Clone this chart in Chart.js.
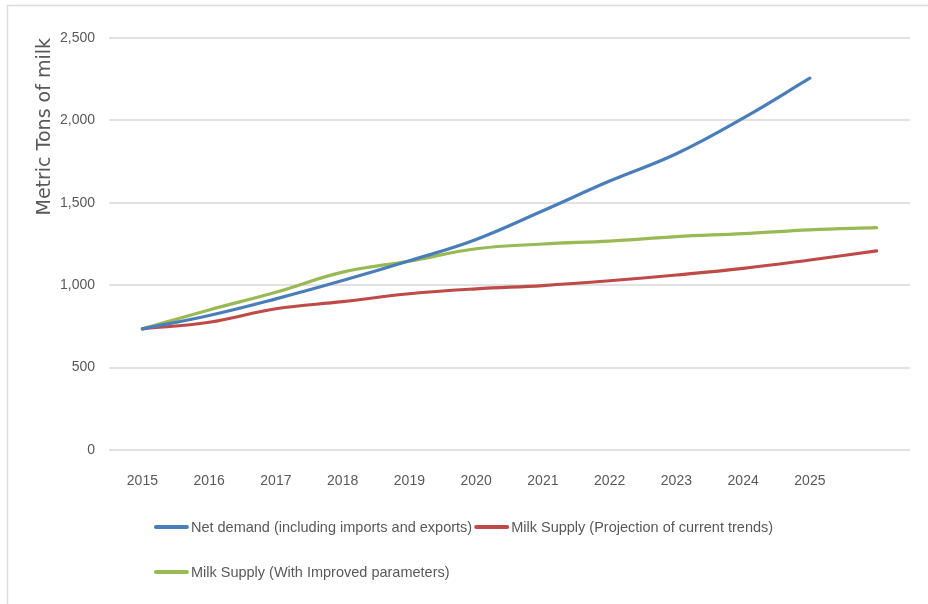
<!DOCTYPE html>
<html>
<head>
<meta charset="utf-8">
<script src="https://cdn.jsdelivr.net/npm/chart.js@4"></script>
<style>
  html, body { margin: 0; padding: 0; background: #ffffff; }
  #wrap { position: relative; width: 928px; height: 604px; }
</style>
</head>
<body>
<div id="wrap"><canvas id="c" width="928" height="604"></canvas></div>
<script>
// ---- data ----
const years = ['2015', '2016', '2017', '2018', '2019', '2020', '2021', '2022', '2023', '2024', '2025', ''];
const netDemand = [735, 816, 917, 1028, 1148, 1278, 1452, 1632, 1798, 2014, 2256];
const supplyCurrent = [735, 775, 857, 900, 948, 978, 998, 1027, 1062, 1102, 1153, 1208];
const supplyImproved = [735, 850, 957, 1079, 1146, 1221, 1250, 1268, 1295, 1313, 1336, 1349];
const seriesNames = [
  'Net demand (including imports and exports)',
  'Milk Supply (Projection of current trends)',
  'Milk Supply (With Improved parameters)'
];
const yTicks = [0, 500, 1000, 1500, 2000, 2500];
const yTitle = 'Metric Tons of milk';

const SANS = "'Liberation Sans', Arial, sans-serif";
const TEXT = '#595959';
const colors = ['#4A7EBB', '#BE4B48', '#98B954'];

const framePlugin = {
  id: 'frame',
  beforeDraw(chart) {
    const ctx = chart.ctx;
    ctx.save();
    ctx.strokeStyle = '#dcdcdc';
    ctx.lineWidth = 1.5;
    ctx.strokeRect(7.5, 5.5, 1000, 800);
    ctx.restore();
  }
};

const legendPlugin = {
  id: 'customLegend',
  afterDraw(chart) {
    const ctx = chart.ctx;
    const ds = chart.data.datasets;
    ctx.save();
    ctx.font = '14.5px ' + SANS;
    ctx.textBaseline = 'middle';
    ctx.textAlign = 'left';
    const mark = 33, gapT = 3, gapI = 3;
    const rows = [[0, 1], [2]];
    const rowY = [527, 572];
    const w = i => mark + gapT + ctx.measureText(ds[i].label).width;
    const row1W = w(0) + gapI + w(1);
    const startX = (chart.width - row1W) / 2;
    rows.forEach((row, r) => {
      let x = startX;
      row.forEach(i => {
        ctx.strokeStyle = ds[i].borderColor;
        ctx.lineWidth = 4;
        ctx.lineCap = 'round';
        ctx.beginPath();
        ctx.moveTo(x + 1, rowY[r]);
        ctx.lineTo(x + mark - 1, rowY[r]);
        ctx.stroke();
        ctx.fillStyle = TEXT;
        ctx.fillText(ds[i].label, x + mark + gapT, rowY[r] + 1);
        x += w(i) + gapI;
      });
    });
    ctx.restore();
  }
};

const mk = (label, data, color) => ({
  label, data,
  borderColor: color,
  backgroundColor: color,
  borderWidth: 3.2,
  pointRadius: 0,
  pointHoverRadius: 0,
  tension: 0.4,
  fill: false,
  borderCapStyle: 'round'
});

new Chart(document.getElementById('c'), {
  type: 'line',
  data: {
    labels: years,
    datasets: [
      mk(seriesNames[0], netDemand, colors[0]),
      mk(seriesNames[1], supplyCurrent, colors[1]),
      mk(seriesNames[2], supplyImproved, colors[2])
    ]
  },
  options: {
    responsive: false,
    animation: false,
    devicePixelRatio: 1,
    layout: { padding: { left: 0, top: 38, right: 18, bottom: 0 } },
    plugins: {
      legend: { display: false },
      tooltip: { enabled: false },
      title: { display: false }
    },
    scales: {
      x: {
        offset: true,
        grid: { display: false, drawTicks: false },
        border: { display: false },
        ticks: {
          color: TEXT,
          font: { family: SANS, size: 14 },
          padding: 23,
          maxRotation: 0,
          autoSkip: false
        },
        afterFit(scale) { scale.height = 154; }
      },
      y: {
        min: 0,
        max: 2500,
        afterBuildTicks(scale) { scale.ticks = yTicks.map(v => ({ value: v })); },
        grid: { color: '#e2e2e2', lineWidth: 2, drawTicks: false },
        border: { display: false },
        ticks: {
          color: TEXT,
          font: { family: SANS, size: 14 },
          padding: 14,
          callback: v => v.toLocaleString('en-US')
        },
        title: {
          display: true,
          text: yTitle,
          align: 'end',
          color: TEXT,
          font: { family: "'DejaVu Sans', sans-serif", size: 19 },
          padding: { top: 34, bottom: 0 }
        },
        afterFit(scale) { scale.width = 109; }
      }
    }
  },
  plugins: [framePlugin, legendPlugin]
});
</script>
</body>
</html>
